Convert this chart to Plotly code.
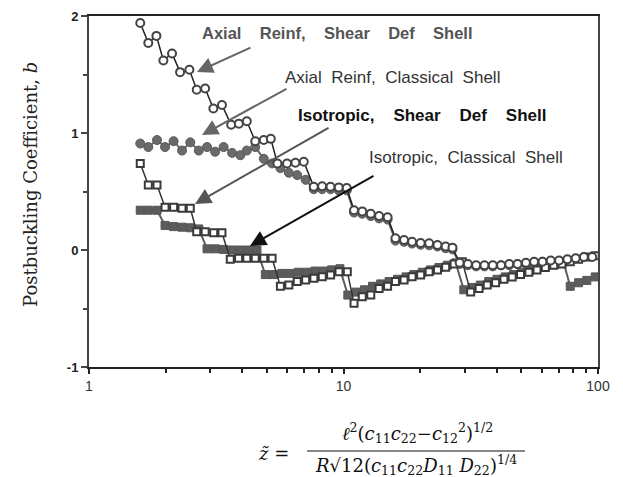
import plotly.graph_objects as go

# ---------------- data ----------------
# Axial Reinf, Shear Def Shell (open circles)
xA = [1.59, 1.71, 1.84, 1.96, 2.12, 2.28, 2.48, 2.65, 2.86, 3.08, 3.33, 3.62, 3.88, 4.17,
      4.5, 4.86, 5.18, 5.5, 6.0, 6.47, 6.98, 7.64, 8.24, 8.89, 9.58, 10.3,
      11.0, 11.85, 12.8, 13.8, 14.9, 16.0, 17.3, 18.6, 20.1, 21.7, 23.4, 25.2, 26.8,
      28.6, 30.8, 33.2, 35.8, 38.6, 41.6, 44.8, 48.3, 52.1, 56.1, 60.5, 65.2, 70.3,
      75.8, 81.7, 88.0, 94.9]
yA = [1.94, 1.77, 1.83, 1.62, 1.68, 1.52, 1.54, 1.37, 1.38, 1.21, 1.24, 1.07, 1.08, 1.10,
      0.93, 0.94, 0.95, 0.74, 0.74, 0.745, 0.755, 0.54, 0.545, 0.54, 0.535, 0.53,
      0.34, 0.33, 0.31, 0.29, 0.28, 0.10, 0.085, 0.07, 0.06, 0.057, 0.043, 0.03, 0.02,
      -0.11, -0.12, -0.13, -0.13, -0.13, -0.13, -0.12, -0.12, -0.11, -0.10, -0.10, -0.09,
      -0.09, -0.08, -0.07, -0.06, -0.06]

# Axial Reinf, Classical Shell (filled circles)
xB = [1.59, 1.71, 1.85, 1.99, 2.15, 2.32, 2.50, 2.70, 2.91, 3.13, 3.38, 3.65, 3.93, 4.17,
      4.5, 4.86, 5.24, 5.65, 6.1, 6.58, 7.1, 7.64, 8.24, 8.89, 9.58, 10.3,
      11.0, 11.85, 12.8, 13.8, 14.9, 16.0, 17.3, 18.6, 20.1, 21.7, 23.4, 25.2, 26.8,
      28.6, 30.8, 33.2, 35.8, 38.6, 41.6, 44.8, 48.3, 52.1, 56.1, 60.5, 65.2]
yB = [0.91, 0.88, 0.94, 0.88, 0.93, 0.85, 0.92, 0.85, 0.88, 0.84, 0.88, 0.83, 0.81, 0.85,
      0.88, 0.78, 0.74, 0.70, 0.66, 0.64, 0.60, 0.52, 0.52, 0.52, 0.51, 0.51,
      0.32, 0.31, 0.29, 0.27, 0.26, 0.08, 0.07, 0.055, 0.045, 0.04, 0.03, 0.015, 0.005,
      -0.12, -0.13, -0.14, -0.14, -0.14, -0.13, -0.13, -0.12, -0.12, -0.11, -0.10, -0.10]

# Isotropic, Shear Def Shell (open squares)
xC = [1.59, 1.71, 1.85, 1.99, 2.15, 2.32, 2.50, 2.65, 2.86, 3.09, 3.33, 3.59, 3.87, 4.17,
      4.5, 4.86, 5.24, 5.65, 6.1, 6.58, 7.1, 7.65, 8.25, 8.9, 9.6, 10.35,
      11.0, 11.85, 12.8, 13.8, 14.9, 16.0, 17.3, 18.6, 20.1, 21.7, 23.4, 25.2, 27.2, 29.3,
      31.6, 34.1, 36.7, 39.6, 42.7, 46.0, 49.6, 53.5, 57.6, 62.1, 67.0, 72.2, 77.8,
      83.9, 90.4, 97.5]
yC = [0.74, 0.555, 0.555, 0.365, 0.365, 0.356, 0.356, 0.157, 0.157, 0.148, 0.148,
      -0.08, -0.07, -0.07, -0.07, -0.07, -0.07, -0.31, -0.30, -0.27, -0.256, -0.242,
      -0.228, -0.214, -0.185, -0.185, -0.456, -0.40, -0.385, -0.33, -0.31, -0.27, -0.256,
      -0.228, -0.214, -0.185, -0.171, -0.148, -0.12, -0.10, -0.36, -0.33, -0.30, -0.28,
      -0.25, -0.23, -0.21, -0.19, -0.17, -0.15, -0.13, -0.12, -0.10, -0.08, -0.06, -0.05]

# Isotropic, Classical Shell (filled squares)
xD = [1.59, 1.71, 1.85, 1.99, 2.15, 2.32, 2.50, 2.70, 2.91, 3.13, 3.38, 3.65, 3.93, 4.24,
      4.57, 4.93, 5.31, 5.73, 6.17, 6.65, 7.17, 7.73, 8.33, 8.98, 9.68,
      10.4, 11.2, 12.1, 13.0, 14.0, 15.1, 16.3, 17.6, 18.9, 20.4, 22.0, 23.7, 25.6, 27.6,
      29.7, 32.0, 34.5, 37.2, 40.1, 43.2, 46.6, 50.2, 54.1, 58.3, 62.9, 67.8, 73.1,
      77.8, 83.9, 90.4, 97.5]
yD = [0.34, 0.34, 0.34, 0.21, 0.20, 0.195, 0.19, 0.18, 0.01, 0.01, 0.005, 0.0, 0.0, 0.0,
      0.0, -0.21, -0.21, -0.20, -0.20, -0.19, -0.19, -0.18, -0.18, -0.17, -0.16,
      -0.385, -0.36, -0.34, -0.31, -0.29, -0.27, -0.25, -0.23, -0.21, -0.19, -0.17,
      -0.15, -0.13, -0.11, -0.34, -0.32, -0.30, -0.27, -0.25, -0.23, -0.21, -0.19, -0.17,
      -0.15, -0.13, -0.12, -0.10, -0.31, -0.28, -0.26, -0.23]

y_ticks = [-1, 0, 1, 2]
y_ticktext = ["<b>-1</b>", "<b>0</b>", "<b>1</b>", "<b>2</b>"]
x_ticks = [1, 10, 100]
x_ticktext = ["1", "10", "100"]

NB = "\u00a0"
labels = [("Axial", "Reinf,", "Shear", "Def", "Shell"),
          ("Axial", "Reinf,", "Classical", "Shell"),
          ("Isotropic,", "Shear", "Def", "Shell"),
          ("Isotropic,", "Classical", "Shell")]
gaps = [4, 2, 4, 2]

# ---------------- figure ----------------
W, H = 623, 477
L, R, T, B = 89, 25, 16, 110
PW, PH = W - L - R, H - T - B


def px(xp):
    return (xp - L) / PW


def py(yp):
    return (H - B - yp) / PH


fig = go.Figure()

fig.add_trace(go.Scatter(x=xD, y=yD, mode="lines+markers",
                         line=dict(color="#5c5c5c", width=2),
                         marker=dict(symbol="square", size=8, color="#5c5c5c",
                                     line=dict(color="#555", width=1)),
                         showlegend=False))
fig.add_trace(go.Scatter(x=xB, y=yB, mode="lines+markers",
                         line=dict(color="#666", width=2),
                         marker=dict(symbol="circle", size=9, color="#6a6a6a",
                                     line=dict(color="#5a5a5a", width=1)),
                         showlegend=False))
fig.add_trace(go.Scatter(x=xC, y=yC, mode="lines+markers",
                         line=dict(color="#333", width=1.5),
                         marker=dict(symbol="square", size=7, color="white",
                                     line=dict(color="#3a3a3a", width=2)),
                         showlegend=False))
fig.add_trace(go.Scatter(x=xA, y=yA, mode="lines+markers",
                         line=dict(color="#222", width=1.5),
                         marker=dict(symbol="circle", size=8, color="white",
                                     line=dict(color="#444", width=2)),
                         showlegend=False))

anns = []
# label texts
lab_pos = [(337, 33, True, "#555", 16.5), (392, 78, False, "#333", 17),
           (422, 115, True, "#111", 17), (466, 157, False, "#333", 17)]
for words, g, (cx, cy, bold, col, fs) in zip(labels, gaps, lab_pos):
    t = (NB * g).join(words)
    anns.append(dict(x=px(cx), y=py(cy), xref="paper", yref="paper",
                     text=("<b>%s</b>" % t) if bold else t, showarrow=False,
                     xanchor="center", yanchor="middle",
                     font=dict(family="Liberation Sans, Arial", size=fs, color=col)))
# arrows (head, tail) in pixels
arrows = [((197, 72), (252, 47), "#666"), ((202, 135), (288, 88), "#666"),
          ((195, 204), (330, 127), "#555"), ((250, 246), (375, 175), "#111")]
for (hx, hy), (tx, ty), col in arrows:
    anns.append(dict(x=px(hx), y=py(hy), xref="paper", yref="paper", text="",
                     showarrow=True, ax=tx - hx, ay=ty - hy, axref="pixel", ayref="pixel",
                     arrowhead=2, arrowsize=1.6, arrowwidth=2, arrowcolor=col))

# y axis title
anns.append(dict(x=px(30), y=py(185), xref="paper", yref="paper",
                 text="Postbuckling Coefficient, <i>b</i>", textangle=-90,
                 showarrow=False, xanchor="center", yanchor="middle",
                 font=dict(family="DejaVu Serif, serif", size=18, color="#222")))

# x axis title formula
serif = "DejaVu Serif, serif"
anns.append(dict(x=px(273), y=py(453), xref="paper", yref="paper",
                 text="<i>z\u0303</i> =", showarrow=False, xanchor="center", yanchor="middle",
                 font=dict(family=serif, size=18, color="#111")))
anns.append(dict(x=px(417), y=py(433), xref="paper", yref="paper",
                 text="<i>\u2113</i><sup>2</sup>(<i>c</i><sub>11</sub><i>c</i><sub>22</sub>\u2212<i>c</i><sub>12</sub><sup>2</sup>)<sup>1/2</sup>",
                 showarrow=False, xanchor="center", yanchor="middle",
                 font=dict(family=serif, size=18, color="#111")))
anns.append(dict(x=px(416), y=py(465), xref="paper", yref="paper",
                 text="<i>R</i>\u221a12(<i>c</i><sub>11</sub><i>c</i><sub>22</sub><i>D</i><sub>11</sub> <i>D</i><sub>22</sub>)<sup>1/4</sup>",
                 showarrow=False, xanchor="center", yanchor="middle",
                 font=dict(family=serif, size=18, color="#111")))

shapes = [dict(type="line", xref="paper", yref="paper", x0=px(307), x1=px(525),
               y0=py(451), y1=py(451), line=dict(color="#111", width=1.2))]

fig.update_layout(
    width=W, height=H,
    margin=dict(l=L, r=R, t=T, b=B, pad=0),
    paper_bgcolor="white", plot_bgcolor="white",
    annotations=anns, shapes=shapes,
    xaxis=dict(type="log", range=[0, 2], tickvals=x_ticks, ticktext=x_ticktext,
               showgrid=False, zeroline=False, showline=True, mirror=True,
               linecolor="#222", linewidth=2, ticks="outside", ticklen=5,
               tickwidth=2, tickcolor="#222", automargin=False,
               tickfont=dict(family="Liberation Sans, Arial", size=14, color="#333"),
               minor=dict(tickvals=[2, 3, 4, 5, 6, 7, 8, 9, 20, 30, 40, 50, 60, 70, 80, 90],
                          ticks="outside", ticklen=4, tickwidth=2, tickcolor="#222",
                          showgrid=False)),
    yaxis=dict(range=[-1, 2], tickvals=y_ticks, ticktext=y_ticktext,
               showgrid=False, zeroline=False, showline=True, mirror=True,
               linecolor="#444", linewidth=2, ticks="outside", ticklen=6,
               tickwidth=2, tickcolor="#444", automargin=False,
               tickfont=dict(family="Liberation Sans, Arial", size=13, color="#222"),
               minor=dict(tickvals=[-0.5, 0.5, 1.5], ticks="outside", ticklen=4,
                          tickwidth=2, tickcolor="#444", showgrid=False)),
)

fig.write_html("out.html", config={"displayModeBar": False},
               post_script="document.body.style.margin='0';")
